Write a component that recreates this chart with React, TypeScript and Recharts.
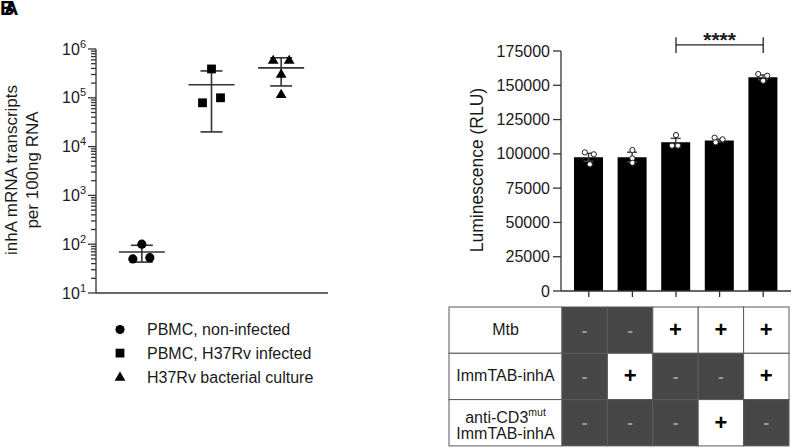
import React from 'react';
import {
  ScatterChart,
  ComposedChart,
  Scatter,
  Bar,
  XAxis,
  YAxis,
  ErrorBar,
  Legend,
  ReferenceLine,
} from 'recharts';

const FONT = '"Liberation Sans", Arial, Helvetica, sans-serif';
const AXIS = '#333333';
const TEXT = '#1a1a1a';

// ---------------- Panel A data ----------------
const groupNames = ['PBMC, non-infected', 'PBMC, H37Rv infected', 'H37Rv bacterial culture'];
const nonInfectedCopies = [100, 50, 53];
const infectedCopies = [390000, 79000, 100000];
const cultureCopies = [600000, 600000, 310000, 120000];
const groupMean = [69, 185000, 410000];
const groupSdLow = [43, 20000, 175000];
const groupSdHigh = [95, 355000, 660000];
const logDecades = [10, 100, 1000, 10000, 100000];
const logMultipliers = [1, 2, 3, 4, 5, 6, 7, 8, 9];
const logTicks = [...logDecades.flatMap((d) => logMultipliers.map((m) => d * m)), 1000000];

// ---------------- Panel B data ----------------
const conditionIds = ['1', '2', '3', '4', '5'];
const meanRLU = [97500, 97600, 108400, 109800, 155800];
const semRLU = [2900, 3600, 2900, 1000, 1700];
const replicate1 = [101100, 102800, 113700, 111800, 158200];
const replicate2 = [92400, 96700, 106000, 108400, 153300];
const replicate3 = [99700, 93500, 106000, 110600, 157000];
const rluTicks = [0, 25000, 50000, 75000, 100000, 125000, 150000, 175000];
const sigFrom = '3';
const sigTo = '5';
const sigLevel = 179400;
const sigTickTop = 185000;
const sigTickBottom = 173500;
const sigText = '****';

const tableLabels = ['Mtb', 'ImmTAB-inhA', 'anti-CD3|mut|ImmTAB-inhA'];
const mtbSigns = ['-', '-', '+', '+', '+'];
const immtabSigns = ['-', '+', '-', '-', '+'];
const antiCd3Signs = ['-', '-', '-', '+', '-'];

// ---------------- built tables ----------------
const nonInfectedData = nonInfectedCopies.map((v) => ({ group: groupNames[0], value: v }));
const infectedData = infectedCopies.map((v) => ({ group: groupNames[1], value: v }));
const cultureData = cultureCopies.map((v) => ({ group: groupNames[2], value: v }));
const summaryData = groupNames.map((g, i) => ({
  group: g,
  value: groupMean[i],
  err: [groupMean[i] - groupSdLow[i], groupSdHigh[i] - groupMean[i]],
}));

const barData = conditionIds.map((c, i) => ({
  cond: c,
  mean: meanRLU[i],
  sem: semRLU[i],
  r1: replicate1[i],
  r2: replicate2[i],
  r3: replicate3[i],
}));

// horizontal jitter (px) of the individual points
const jitterA = {
  circle: [0, -9, 8],
  square: [0, -9, 9],
  triangle: [-8, 8, 0, 0],
};
const jitterB = {
  r1: [-4, 0, 0, -5, -5],
  r2: [1, 0, -4, -4, 0],
  r3: [5, 0, 2, 3, 4],
};

const drawMarker = (kind: string, cx: number, cy: number) => {
  if (kind === 'circle') return <circle cx={cx} cy={cy} r={4.6} fill="#000" />;
  if (kind === 'square') return <rect x={cx - 4.4} y={cy - 4.4} width={8.8} height={8.8} fill="#000" />;
  return <path d={`M${cx},${cy - 5.2} L${cx + 5.4},${cy + 4} L${cx - 5.4},${cy + 4} Z`} fill="#000" />;
};

const makeShapeA = (kind: 'circle' | 'square' | 'triangle', data: any[]) => (props: any) => {
  const i = data.indexOf(props.payload);
  const off = jitterA[kind][i] ?? 0;
  return drawMarker(kind, props.cx + off, props.cy);
};

const meanShape = (props: any) => (
  <line x1={props.cx - 23} x2={props.cx + 23} y1={props.cy} y2={props.cy} stroke={AXIS} strokeWidth={1.6} />
);

const makeDotB = (key: 'r1' | 'r2' | 'r3') => (props: any) => {
  const i = barData.indexOf(props.payload);
  const off = jitterB[key][i] ?? 0;
  return <circle cx={props.cx + off} cy={props.cy} r={2.6} fill="#fff" stroke="#222" strokeWidth={1} />;
};

const LogTick = (props: any) => {
  const { x, y, payload } = props;
  const v = payload.value;
  const exp = Math.round(Math.log10(v));
  const major = Math.abs(Math.pow(10, exp) - v) < 1e-6 * v;
  const len = major ? 8 : 5;
  return (
    <g>
      <line x1={x - len} x2={x} y1={y} y2={y} stroke={AXIS} strokeWidth={1.3} />
      {major && (
        <text x={x - 10} y={y + 5.5} textAnchor="end" fontSize={16} fill={TEXT} fontFamily={FONT}>
          10
          <tspan dy={-7} fontSize={11}>
            {exp}
          </tspan>
        </text>
      )}
    </g>
  );
};

const RluTick = (props: any) => {
  const { x, y, payload } = props;
  return (
    <text x={x} y={y + 5.6} textAnchor="end" fontSize={16} fill={TEXT} fontFamily={FONT}>
      {String(payload.value)}
    </text>
  );
};

const EmptyTick = () => <g />;

const markerKinds: Record<string, string> = {
  [groupNames[0]]: 'circle',
  [groupNames[1]]: 'square',
  [groupNames[2]]: 'triangle',
};

const LegendA = (props: any) => {
  const items = (props.payload || [])
    .filter((p: any) => p.type !== 'none' && groupNames.indexOf(p.value) >= 0)
    .slice()
    .sort((a: any, b: any) => groupNames.indexOf(a.value) - groupNames.indexOf(b.value));
  return (
    <svg width={230} height={75} style={{ display: 'block' }}>
      {items.map((it: any, i: number) => {
        const cy = 11.5 + i * 23.6;
        return (
          <g key={it.value}>
            {drawMarker(markerKinds[it.value] || 'circle', 10, cy)}
            <text x={37} y={cy + 5.8} fontSize={16} fill={TEXT} fontFamily={FONT}>
              {it.value}
            </text>
          </g>
        );
      })}
    </svg>
  );
};

const yLabelA = (props: any) => {
  const vb = props.viewBox || { x: 0, y: 49, width: 96, height: 244 };
  const cx = vb.x + 17;
  const cy = vb.y + vb.height / 2 - 1;
  return (
    <text transform={`translate(${cx},${cy}) rotate(-90)`} textAnchor="middle" fontSize={17} fill={TEXT} fontFamily={FONT}>
      <tspan x={0} dy={0}>inhA mRNA transcripts</tspan>
      <tspan x={0} dy={21}>per 100ng RNA</tspan>
    </text>
  );
};

const yLabelB = (props: any) => {
  const vb = props.viewBox || { x: 0, y: 51, width: 121, height: 240 };
  const cx = vb.x + 43;
  const cy = vb.y + vb.height / 2 - 1;
  return (
    <text transform={`translate(${cx},${cy}) rotate(-90)`} textAnchor="middle" fontSize={17.5} fill={TEXT} fontFamily={FONT}>
      Luminescence (RLU)
    </text>
  );
};

const sigLabel = (props: any) => {
  const vb = props.viewBox || { x: 0, y: 0, width: 0, height: 0 };
  return (
    <text x={vb.x + vb.width / 2} y={vb.y + 2} textAnchor="middle" fontSize={21} fontWeight="bold" fill={TEXT} fontFamily={FONT}>
      {sigText}
    </text>
  );
};

const PanelA = () => (
  <ScatterChart width={340} height={448} margin={{ top: 49, right: 12, bottom: 148, left: 0 }}>
    <XAxis
      type="category"
      dataKey="group"
      allowDuplicatedCategory={false}
      tick={false}
      tickLine={false}
      axisLine={{ stroke: AXIS, strokeWidth: 1.3 }}
      height={7}
      padding={{ left: 11, right: 12 }}
    />
    <YAxis
      type="number"
      dataKey="value"
      scale="log"
      domain={[10, 1000000]}
      allowDataOverflow
      ticks={logTicks}
      interval={0}
      tickLine={false}
      tickSize={0}
      tickMargin={0}
      width={96}
      axisLine={{ stroke: AXIS, strokeWidth: 1.3 }}
      tick={<LogTick />}
      label={{ content: yLabelA }}
    />
    <Legend
      layout="vertical"
      align="center"
      verticalAlign="middle"
      wrapperStyle={{ left: 110, top: 318, width: 230, height: 75 }}
      content={<LegendA />}
    />
    <Scatter name={groupNames[0]} data={nonInfectedData} fill="#000" shape={makeShapeA('circle', nonInfectedData)} isAnimationActive={false} />
    <Scatter name={groupNames[1]} data={infectedData} fill="#000" shape={makeShapeA('square', infectedData)} isAnimationActive={false} />
    <Scatter name={groupNames[2]} data={cultureData} fill="#000" shape={makeShapeA('triangle', cultureData)} isAnimationActive={false} />
    <Scatter name="mean" data={summaryData} legendType="none" shape={meanShape} isAnimationActive={false}>
      <ErrorBar dataKey="err" direction="y" width={11} stroke={AXIS} strokeWidth={1.6} isAnimationActive={false} />
    </Scatter>
  </ScatterChart>
);

const PanelB = () => (
  <ComposedChart width={354} height={310} data={barData} margin={{ top: 51, right: 3, bottom: 0, left: 0 }}>
    <XAxis
      dataKey="cond"
      type="category"
      tick={<EmptyTick />}
      tickSize={6}
      tickLine={{ stroke: AXIS, strokeWidth: 1.3 }}
      axisLine={{ stroke: AXIS, strokeWidth: 1.3 }}
      height={19}
      interval={0}
      padding={{ left: 6, right: 6 }}
    />
    <YAxis
      type="number"
      domain={[0, 175000]}
      ticks={rluTicks}
      interval={0}
      width={121}
      tickSize={8}
      tickMargin={3}
      tickLine={{ stroke: AXIS, strokeWidth: 1.3 }}
      axisLine={{ stroke: AXIS, strokeWidth: 1.3 }}
      tick={<RluTick />}
      label={{ content: yLabelB }}
    />
    <Bar dataKey="mean" fill="#000" barSize={29} isAnimationActive={false}>
      <ErrorBar dataKey="sem" direction="y" width={5} stroke="#444" strokeWidth={1.5} isAnimationActive={false} />
    </Bar>
    <Scatter dataKey="r1" shape={makeDotB('r1')} isAnimationActive={false} />
    <Scatter dataKey="r2" shape={makeDotB('r2')} isAnimationActive={false} />
    <Scatter dataKey="r3" shape={makeDotB('r3')} isAnimationActive={false} />
    <ReferenceLine
      segment={[{ x: sigFrom, y: sigLevel }, { x: sigTo, y: sigLevel }]}
      stroke="#222"
      strokeWidth={1.3}
      ifOverflow="visible"
      label={{ content: sigLabel }}
    />
    <ReferenceLine segment={[{ x: sigFrom, y: sigTickTop }, { x: sigFrom, y: sigTickBottom }]} stroke="#222" strokeWidth={1.3} ifOverflow="visible" />
    <ReferenceLine segment={[{ x: sigTo, y: sigTickTop }, { x: sigTo, y: sigTickBottom }]} stroke="#222" strokeWidth={1.3} ifOverflow="visible" />
  </ComposedChart>
);

const ConditionTable = () => {
  const rows = [mtbSigns, immtabSigns, antiCd3Signs];
  const x0 = 1;
  const y0 = 1;
  const labelW = 113;
  const colW = 45.4;
  const rowH = 46.3;
  const dark = '#474747';
  const border = '#5a5a5a';
  return (
    <svg width={344} height={142} style={{ display: 'block' }}>
      {rows.map((signs, r) => {
        const y = y0 + r * rowH;
        const cyc = y + rowH / 2;
        const parts = tableLabels[r].split('|');
        return (
          <g key={r}>
            <rect x={x0} y={y} width={labelW} height={rowH} fill="#fff" stroke={border} strokeWidth={1} />
            {parts.length === 1 ? (
              <text x={x0 + labelW / 2} y={cyc + 4.5} textAnchor="middle" fontSize={16} fill={TEXT} fontFamily={FONT}>
                {parts[0]}
              </text>
            ) : (
              <g>
                <text x={x0 + labelW / 2} y={cyc} textAnchor="middle" fontSize={16} fill={TEXT} fontFamily={FONT}>
                  {parts[0]}
                  <tspan dy={-7} fontSize={10.5}>
                    {parts[1]}
                  </tspan>
                </text>
                <text x={x0 + labelW / 2} y={cyc + 16.5} textAnchor="middle" fontSize={16} fill={TEXT} fontFamily={FONT}>
                  {parts[2]}
                </text>
              </g>
            )}
            {signs.map((s, c) => {
              const x = x0 + labelW + c * colW;
              const plus = s === '+';
              return (
                <g key={c}>
                  <rect x={x} y={y} width={colW} height={rowH} fill={plus ? '#fff' : dark} stroke={border} strokeWidth={1} />
                  <text
                    x={x + colW / 2}
                    y={cyc + (plus ? 7 : 5.5)}
                    textAnchor="middle"
                    fontSize={plus ? 22 : 17}
                    fontWeight="bold"
                    fill={plus ? '#000' : '#9a9a9a'}
                    fontFamily={FONT}
                  >
                    {s}
                  </text>
                </g>
              );
            })}
          </g>
        );
      })}
    </svg>
  );
};

export default function App() {
  return (
    <div
      style={{
        position: 'absolute',
        left: 0,
        top: 0,
        width: 794,
        height: 448,
        background: '#fff',
        overflow: 'hidden',
        fontFamily: FONT,
      }}
    >
      <div style={{ position: 'absolute', left: 0, top: 0 }}>
        <PanelA />
      </div>
      <div style={{ position: 'absolute', left: 440, top: 0 }}>
        <PanelB />
      </div>
      <div style={{ position: 'absolute', left: 448, top: 306 }}>
        <ConditionTable />
      </div>
      <svg style={{ position: 'absolute', left: 0, top: 0 }} width={30} height={20}>
        <text x={0} y={15} fontSize={20} fontWeight="bold" fill="#000" fontFamily={FONT}>
          B
        </text>
        <text x={4} y={15} fontSize={20} fontWeight="bold" fill="#000" fontFamily={FONT}>
          A
        </text>
      </svg>
    </div>
  );
}
